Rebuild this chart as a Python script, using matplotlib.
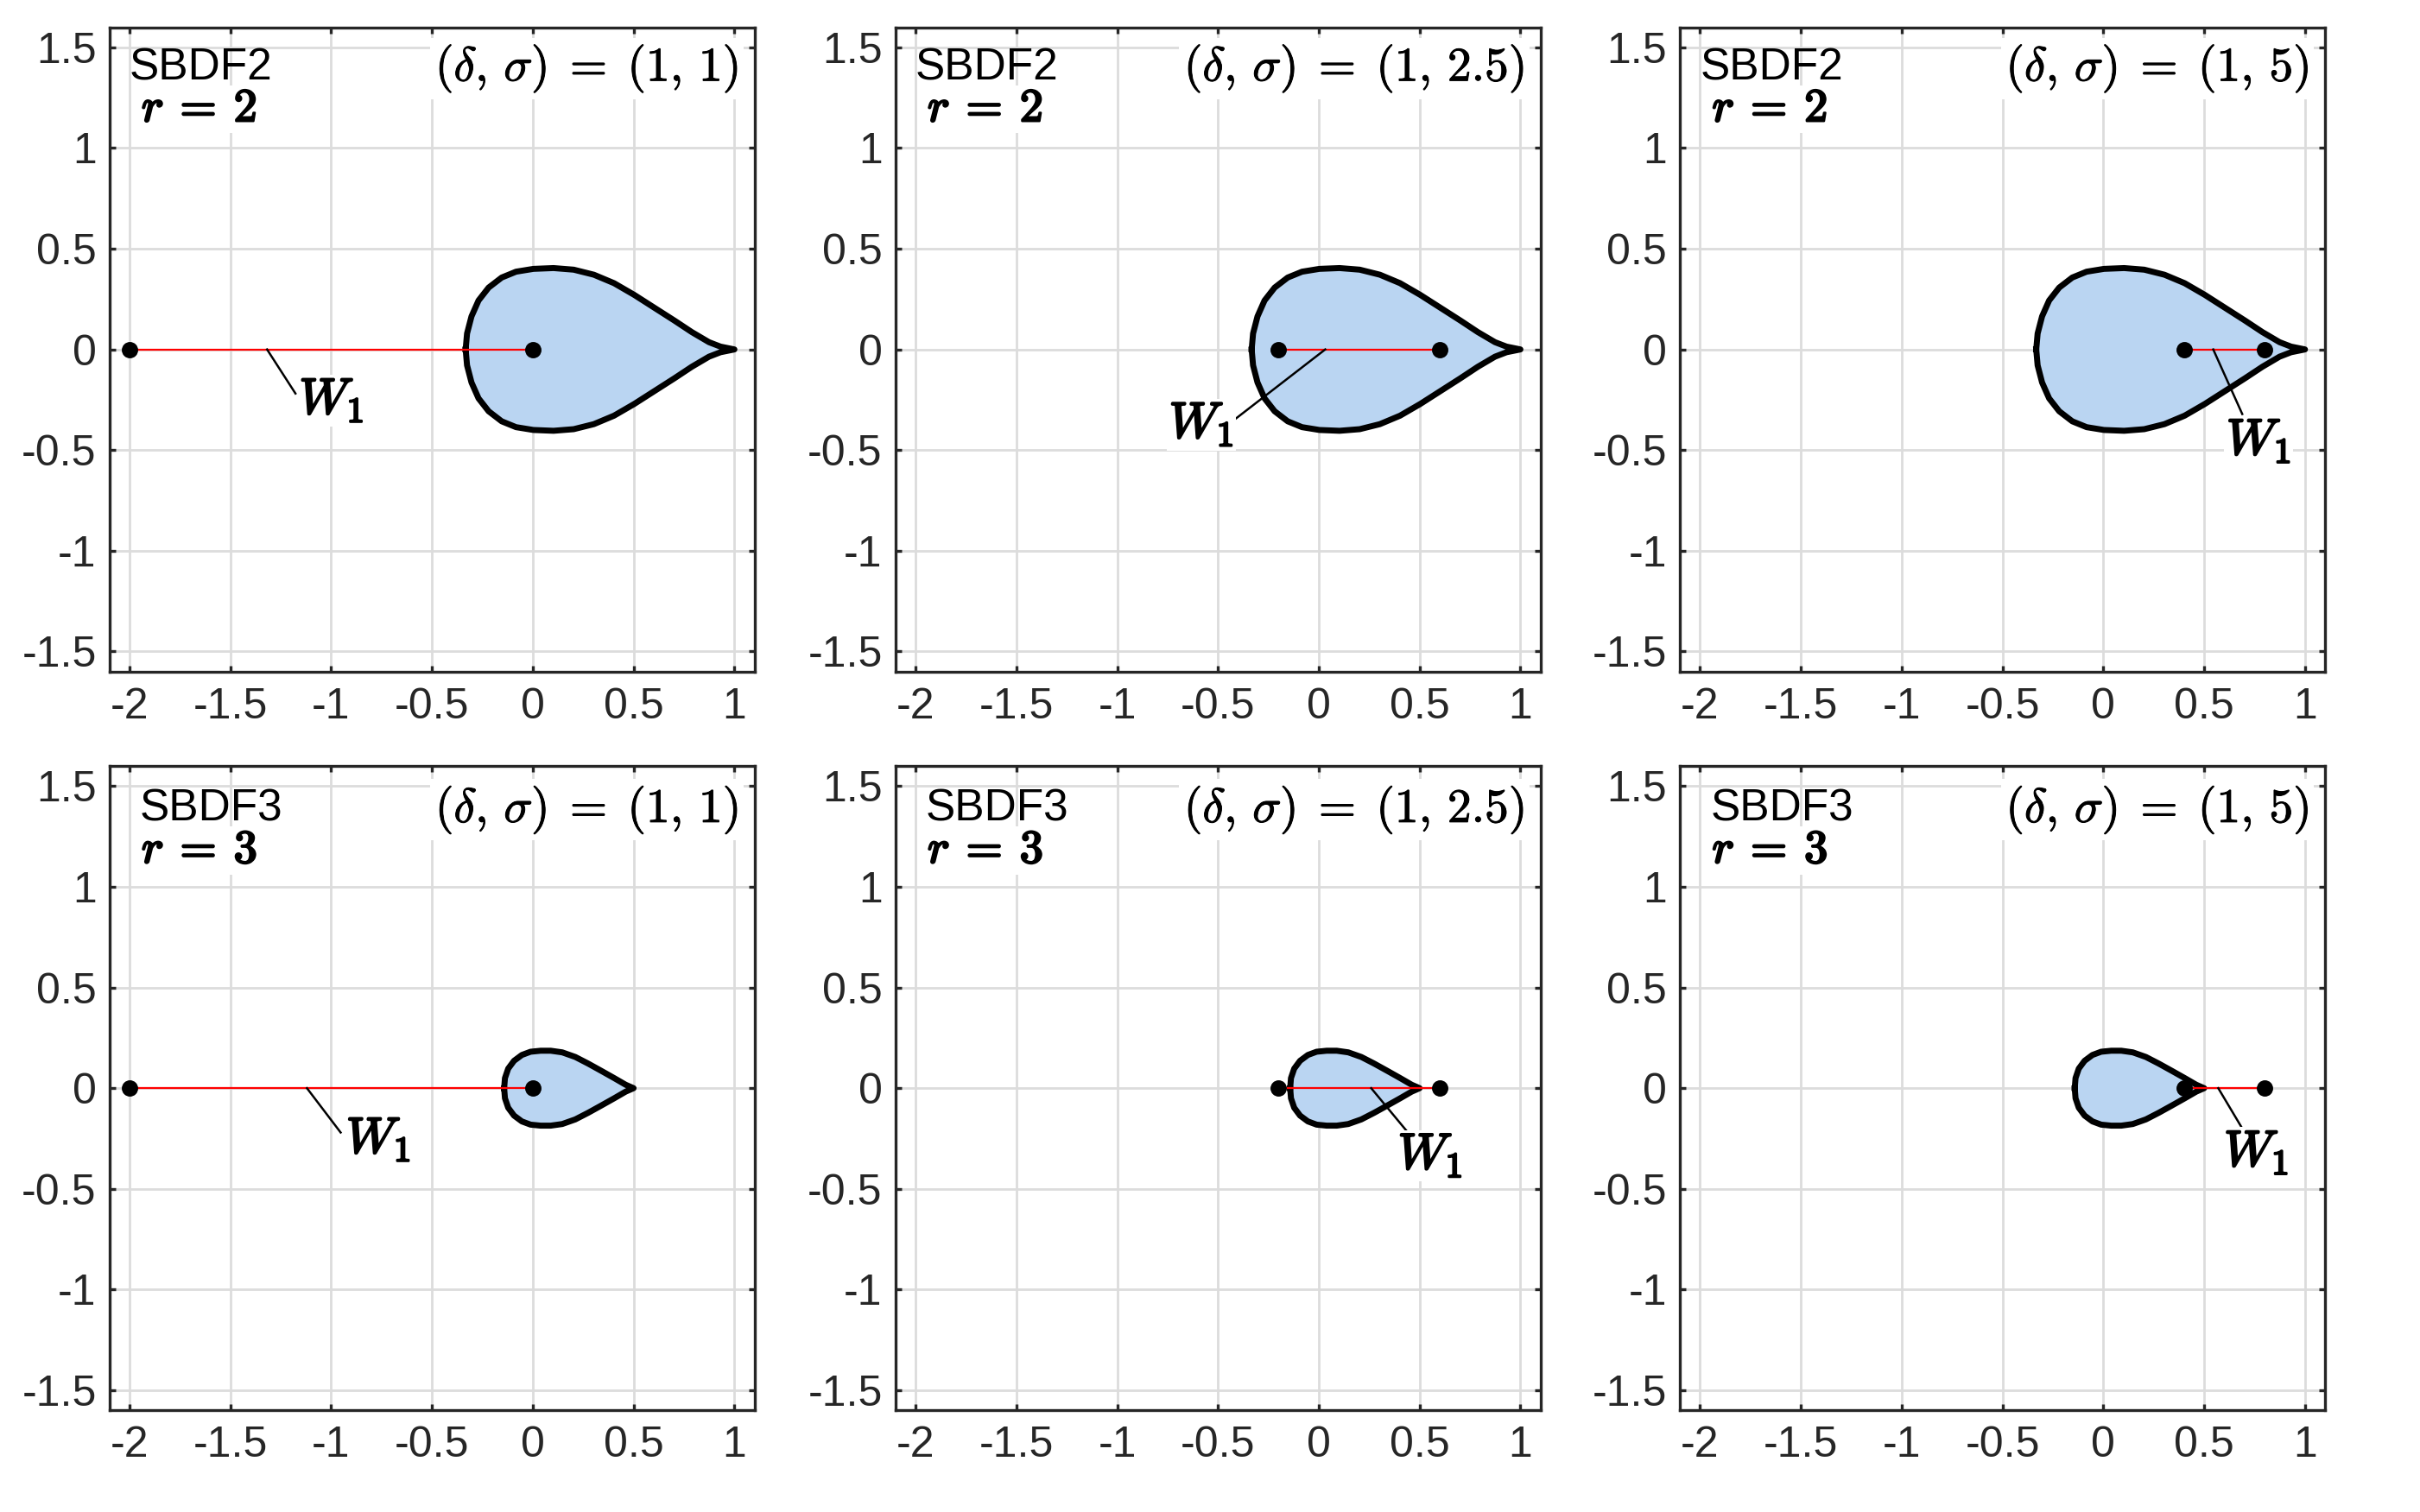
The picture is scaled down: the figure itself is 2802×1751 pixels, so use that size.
import matplotlib
matplotlib.use("Agg")
import matplotlib.pyplot as plt
import matplotlib.patheffects as pe

plt.rcParams["mathtext.fontset"] = "cm"
plt.rcParams["axes.unicode_minus"] = False
plt.rcParams["font.family"] = ["Liberation Sans", "DejaVu Sans"]

# ---------------- data ----------------
x_ticks = [-2, -1.5, -1, -0.5, 0, 0.5, 1]
x_tick_labels = ["-2", "-1.5", "-1", "-0.5", "0", "0.5", "1"]
y_ticks = [-1.5, -1, -0.5, 0, 0.5, 1, 1.5]
y_tick_labels = ["-1.5", "-1", "-0.5", "0", "0.5", "1", "1.5"]

# upper half of the SBDF2 stability boundary (lower half is the mirror image)
sbdf2_upper_x = [-0.333, -0.326, -0.304, -0.269, -0.219, -0.154, -0.083, 0.003,
                 0.103, 0.203, 0.303, 0.403, 0.503, 0.603, 0.703, 0.789, 0.874,
                 0.931, 1.0]
sbdf2_upper_y = [0.0, 0.079, 0.164, 0.243, 0.307, 0.357, 0.386, 0.400,
                 0.404, 0.396, 0.371, 0.329, 0.271, 0.207, 0.143, 0.086, 0.036,
                 0.014, 0.0]

# upper half of the SBDF3 stability boundary
sbdf3_upper_x = [-0.142, -0.138, -0.122, -0.093, -0.054, -0.011, 0.039, 0.089,
                 0.146, 0.211, 0.275, 0.340, 0.404, 0.461, 0.5]
sbdf3_upper_y = [0.0, 0.050, 0.097, 0.136, 0.165, 0.181, 0.186, 0.186,
                 0.178, 0.155, 0.122, 0.086, 0.050, 0.017, 0.0]

schemes = ["SBDF2", "SBDF2", "SBDF2", "SBDF3", "SBDF3", "SBDF3"]
orders = ["2", "2", "2", "3", "3", "3"]
sigmas = ["1", "2.5", "5", "1", "2.5", "5"]
deltas = ["1", "1", "1", "1", "1", "1"]

# W1 segment end points on the real axis
w1_left = [-2.0, -0.2, 0.4, -2.0, -0.2, 0.4]
w1_right = [0.0, 0.6, 0.8, 0.0, 0.6, 0.8]

# W1 label leader line (start on axis, end point) and label anchor
lead_x0 = [-1.318, 0.032, 0.545, -1.12, 0.26, 0.57]
lead_x1 = [-1.177, -0.42, 0.689, -0.953, 0.443, 0.689]
lead_y1 = [-0.219, -0.35, -0.321, -0.22, -0.221, -0.20]
label_x = [-1.158, -0.742, 0.611, -0.925, 0.393, 0.599]
label_y = [-0.319, -0.438, -0.521, -0.321, -0.400, -0.386]

# ---------------- figure ----------------
fig = plt.figure(figsize=(14.01, 8.755), dpi=200)

col_left = [0.0452, 0.3700, 0.6942]
row_bottom = [0.5558, 0.0672]
ax_w, ax_h = 0.2666, 0.4262

dark = "#262626"
fill_col = "#bad5f2"
grid_col = "#dcdcdc"

bold = [pe.withStroke(linewidth=0.9, foreground="black")]
semi = [pe.withStroke(linewidth=0.35, foreground="black")]

for i in range(6):
    r, c = divmod(i, 3)
    ax = fig.add_axes([col_left[c], row_bottom[r], ax_w, ax_h])
    ax.set_xlim(-2.1, 1.1)
    ax.set_ylim(-1.6, 1.6)
    ax.set_xticks(x_ticks)
    ax.set_xticklabels(x_tick_labels)
    ax.set_yticks(y_ticks)
    ax.set_yticklabels(y_tick_labels)
    ax.grid(True, color=grid_col, linewidth=1.0)
    ax.set_axisbelow(True)
    ax.tick_params(direction="in", length=2.6, width=1.2, top=True, right=True,
                   colors=dark, labelsize=18)
    ax.tick_params(axis="x", pad=6.5)
    ax.tick_params(axis="y", pad=5.4)
    for s in ax.spines.values():
        s.set_linewidth(1.2)
        s.set_color(dark)
        s.set_zorder(10)

    if schemes[i] == "SBDF2":
        ux, uy = sbdf2_upper_x, sbdf2_upper_y
    else:
        ux, uy = sbdf3_upper_x, sbdf3_upper_y
    bx = list(ux) + list(ux[::-1][1:])
    by = list(uy) + [-v for v in uy[::-1][1:]]
    ax.fill(bx, by, color=fill_col, linewidth=0, zorder=2)
    ax.plot(bx, by, color="black", linewidth=2.5, solid_joinstyle="round", zorder=3)

    ax.plot([w1_left[i], w1_right[i]], [0, 0], color="red", linewidth=0.8, zorder=4)
    ax.plot([w1_left[i], w1_right[i]], [0, 0], "o", color="black", markersize=5.8,
            zorder=5)
    ax.plot([lead_x0[i], lead_x1[i]], [0, lead_y1[i]], color="black",
            linewidth=0.9, zorder=6)
    t = ax.text(label_x[i], label_y[i], r"$W_1$", fontsize=21, ha="left",
                va="baseline", zorder=7,
                bbox=dict(facecolor="white", edgecolor="none", pad=1.0))
    t.set_path_effects(bold)

    sx = -2.0 if r == 0 else -1.95
    sy = 1.339 if r == 0 else 1.326
    ax.text(sx, sy, schemes[i], fontsize=18.5, ha="left", va="baseline",
            color="black", zorder=7)
    ry = 1.133 if r == 0 else 1.12
    t2 = ax.text(-1.94, ry, r"$r \: = \: \mathbf{%s}$" % orders[i], fontsize=19.5,
                 ha="left", va="baseline", zorder=7,
                 bbox=dict(facecolor="white", edgecolor="none", pad=1.0))
    t2.set_path_effects(bold)

    dy = 1.395 if r == 0 else 1.382
    t3 = ax.text(1.02, dy,
                 r"$(\delta,\,\sigma) \; = \; (%s,\, %s)$" % (deltas[i], sigmas[i]),
                 fontsize=20, ha="right", va="center", zorder=7,
                 bbox=dict(facecolor="white", edgecolor="none", pad=2.0))
    t3.set_path_effects(semi)

fig.savefig("out.png", dpi=200)
